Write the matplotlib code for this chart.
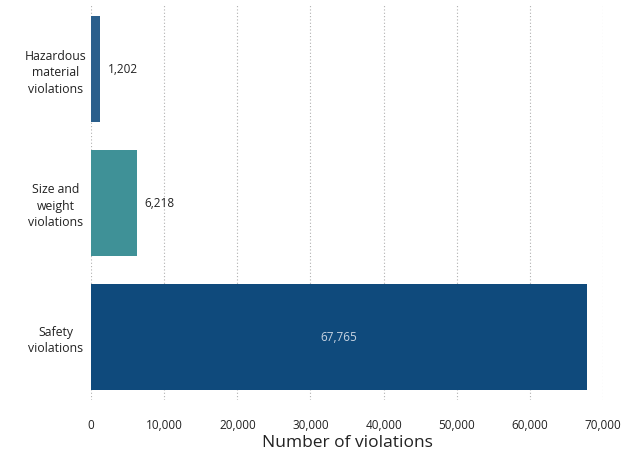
import matplotlib
matplotlib.use("Agg")
import matplotlib.pyplot as plt
from matplotlib.ticker import FuncFormatter

categories = ["Hazardous\nmaterial\nviolations", "Size and\nweight\nviolations", "Safety\nviolations"]
values = [1202, 6218, 67765]
colors = ["#2b5f8c", "#3f9197", "#0f4a7c"]
label_colors = ["#222222", "#222222", "#c8d4e2"]
xticks = [0, 10000, 20000, 30000, 40000, 50000, 60000, 70000]

plt.rcParams['font.family'] = ['Open Sans', 'DejaVu Sans']

fig = plt.figure(figsize=(6.33, 4.55), dpi=100)
ax = fig.add_axes([0.1438, 0.121, 0.809, 0.868])

pos = list(range(len(categories)))
ax.barh(pos, values, height=0.79, color=colors, zorder=3)
ax.set_ylim(2.47, -0.48)
ax.set_xlim(0, 70000)
ax.set_yticks(pos)
ax.set_yticklabels(categories, multialignment='center', ha='center', fontsize=8.8,
                   color='#222222', linespacing=1.35)
ax.tick_params(axis='y', length=0, pad=25.5)
ax.set_xticks(xticks)
ax.xaxis.set_major_formatter(FuncFormatter(lambda v, p: f"{int(v):,}"))
ax.tick_params(axis='x', length=0, pad=14, labelsize=8.5, labelcolor='#222222')
ax.grid(axis='x', linestyle=(0, (1, 2)), color='#b0b0b0', linewidth=0.8, zorder=0)
for s in ax.spines.values():
    s.set_visible(False)

for i, v in enumerate(values):
    if v > 30000:
        ax.text(v / 2, i, f"{v:,}", ha='center', va='center', fontsize=8.5, color=label_colors[i], zorder=4)
    else:
        ax.text(v + 1100, i, f"{v:,}", ha='left', va='center', fontsize=8.5, color=label_colors[i], zorder=4)

ax.set_xlabel("Number of violations", fontsize=12.5, color='#222222', labelpad=2)

fig.savefig("out.png", dpi=100)
